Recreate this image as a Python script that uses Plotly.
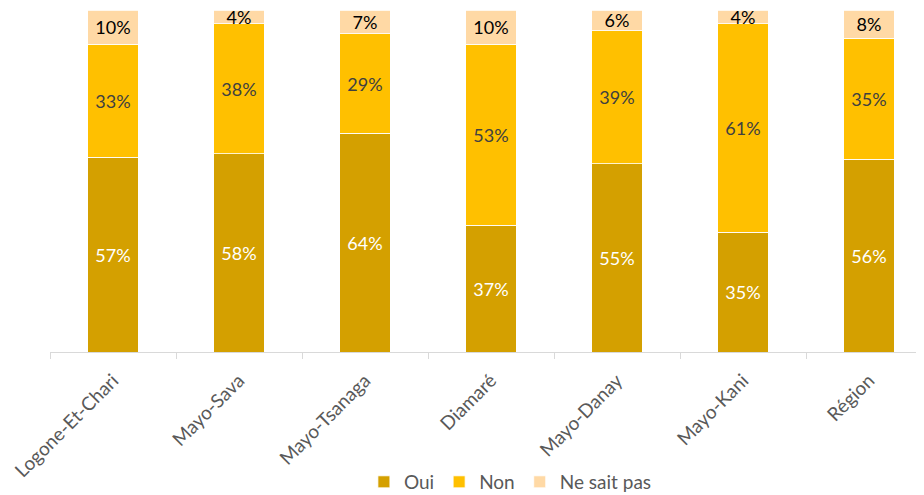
import plotly.graph_objects as go

categories = ["Logone-Et-Chari", "Mayo-Sava", "Mayo-Tsanaga", "Diamaré", "Mayo-Danay", "Mayo-Kani", "Région"]
oui = [57, 58, 64, 37, 55, 35, 56.4]
non = [33, 38, 29, 53, 39, 61, 35.4]
nsp = [10, 4, 7, 10, 6, 4, 8.2]

series = [
    ("Oui", oui, "#D4A000", "#FFFFFF"),
    ("Non", non, "#FFC000", "#404040"),
    ("Ne sait pas", nsp, "#FFD9A5", "#000000"),
]

FONT = "Lato, 'Open Sans', sans-serif"

fig = go.Figure()
for name, vals, col, tcol in series:
    fig.add_trace(go.Bar(
        name=name, x=categories, y=vals,
        marker=dict(color=col, line=dict(color="#FFFFFF", width=0.8)),
        text=[f"{round(v):d}%" for v in vals],
        textposition="inside", insidetextanchor="middle",
        constraintext="none", cliponaxis=False,
        textfont=dict(color=tcol, size=18, family=FONT),
        width=0.4,
    ))

fig.update_layout(
    barmode="stack",
    width=924, height=495,
    margin=dict(l=42, r=0, t=2, b=151, autoexpand=False),
    paper_bgcolor="white", plot_bgcolor="white",
    font=dict(family=FONT, color="#595959", size=18),
    showlegend=True,
    legend=dict(orientation="h", x=0.522, xanchor="center", y=-0.38, yanchor="middle",
                font=dict(size=19, color="#595959"), traceorder="normal"),
    xaxis=dict(range=[-0.5, 6.5], showline=True, linecolor="#D9D9D9", linewidth=1,
               ticks="outside", tickson="boundaries", ticklen=6, tickcolor="#D9D9D9",
               tickangle=-45, tickfont=dict(size=19, color="#595959"), showgrid=False,
               ticklabelstandoff=9, automargin=False),
    yaxis=dict(range=[0, 100], visible=False, showgrid=False),
)

fig.write_html("out.html")
